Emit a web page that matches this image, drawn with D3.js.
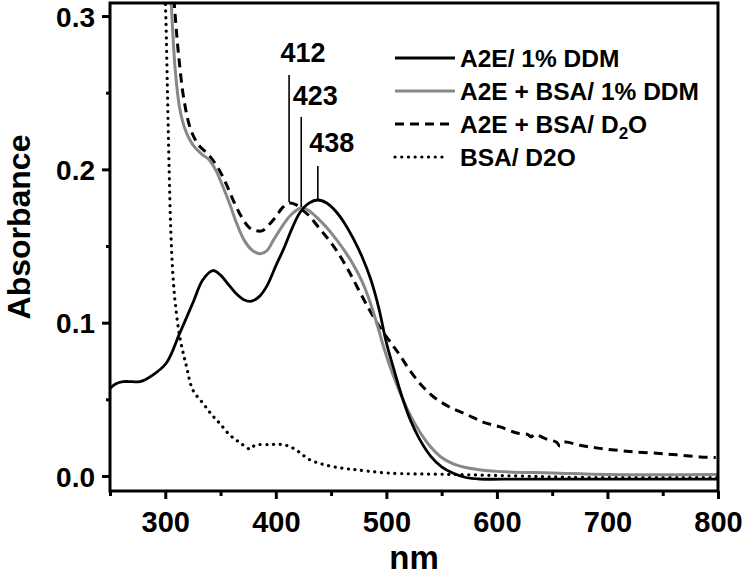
<!DOCTYPE html>
<html><head><meta charset="utf-8">
<script src="https://cdn.jsdelivr.net/npm/d3@7"></script>
<style>
html,body{margin:0;padding:0;background:#fff;}
svg text{font-family:"Liberation Sans",Arial,sans-serif;font-weight:bold;fill:#000;}
</style></head>
<body>
<svg id="chart" width="745" height="579"></svg>
<script>
// ---- data (nm, absorbance) ----
const seriesNames = ["A2E/ 1% DDM", "A2E + BSA/ 1% DDM", "A2E + BSA/ D2O", "BSA/ D2O"];
const a2eDDM = [[250,0.057],[255,0.060],[262,0.0615],[270,0.0615],[277,0.0615],[289,0.066],[301,0.0737],[313,0.093],[325,0.113],[334,0.128],[343,0.134],[350,0.131],[357,0.125],[364,0.119],[371,0.115],[378,0.114],[385,0.117],[392,0.124],[400,0.137],[407,0.148],[415,0.162],[422,0.172],[430,0.178],[438,0.180],[446,0.178],[455,0.172],[462,0.165],[470,0.155],[478,0.143],[486,0.128],[493,0.110],[500,0.087],[507,0.069],[514,0.052],[522,0.036],[530,0.024],[540,0.013],[550,0.006],[560,0.002],[572,-0.001],[585,-0.002],[620,-0.002],[700,-0.002],[800,-0.002]];
const a2eBsaDDM = [[302,0.36],[304,0.33],[306,0.30],[309,0.265],[313,0.24],[318,0.226],[325,0.216],[333,0.210],[340,0.206],[346,0.199],[352,0.189],[358,0.178],[365,0.164],[372,0.153],[379,0.147],[386,0.145],[392,0.147],[398,0.154],[405,0.162],[412,0.169],[418,0.173],[423,0.175],[430,0.173],[438,0.168],[446,0.162],[455,0.154],[463,0.146],[470,0.138],[478,0.127],[485,0.114],[492,0.098],[498,0.083],[505,0.068],[512,0.055],[520,0.042],[530,0.029],[540,0.019],[550,0.012],[560,0.008],[575,0.005],[600,0.003],[650,0.002],[700,0.001],[800,0.001]];
const a2eBsaD2O = [[303,0.36],[306,0.33],[309,0.30],[312,0.275],[317,0.245],[323,0.226],[330,0.216],[337,0.211],[343,0.206],[350,0.198],[356,0.189],[362,0.179],[369,0.169],[376,0.162],[382,0.160],[388,0.160],[394,0.164],[400,0.169],[406,0.175],[412,0.178],[418,0.177],[425,0.173],[431,0.169],[440,0.161],[448,0.154],[455,0.147],[465,0.135],[476,0.120],[485,0.108],[495,0.096],[505,0.086],[512,0.079],[522,0.068],[532,0.059],[542,0.052],[557,0.045],[573,0.040],[588,0.035],[603,0.032],[618,0.028],[628,0.027],[631,0.0255],[634,0.027],[645,0.024],[654,0.022],[657,0.0195],[661,0.022],[675,0.020],[693,0.018],[720,0.016],[754,0.0143],[784,0.0124],[798,0.012]];
const bsaD2O = [[298,0.36],[299,0.33],[300.5,0.30],[302,0.25],[303.5,0.20],[305,0.16],[307,0.13],[309,0.113],[313,0.091],[319,0.072],[325,0.056],[334,0.0475],[342,0.040],[349,0.0345],[358,0.027],[367,0.022],[377,0.0175],[381,0.020],[395,0.0205],[406,0.0205],[416,0.018],[431,0.0105],[446,0.007],[461,0.005],[473,0.004],[500,0.002],[560,0.001],[620,0.000],[680,-0.001],[800,-0.001]];
const xTicks = [300, 400, 500, 600, 700, 800];
const xMinorTicks = [250, 350, 450, 550, 650, 750];
const yTicks = [0.0, 0.1, 0.2, 0.3];
const yMinorTicks = [0.05, 0.15, 0.25];
const peakNm = [412, 423, 438];
const peakLabels = ["412", "423", "438"];
const peakLineBottom = [0.1787, 0.1755, 0.1807];
const peakLineTop = [0.2616, 0.2342, 0.2022];
const peakLabelAt = [0.270, 0.242, 0.211];

// ---- layout ----
const svg = d3.select("#chart");
const L = 110, R = 718, T = 3, B = 491;
const x = d3.scaleLinear().domain([250, 800]).range([L, R]);
const y = d3.scaleLinear().domain([-0.0098, 0.3085]).range([B, T]);

svg.append("defs").append("clipPath").attr("id","clip")
  .append("rect").attr("x",L).attr("y",T).attr("width",R-L).attr("height",B-T);

const line = d3.line().x(d=>x(d[0])).y(d=>y(d[1])).curve(d3.curveCatmullRom.alpha(0.5));
const plot = svg.append("g").attr("clip-path","url(#clip)");

const styles = [
  {stroke:"#000", width:2.8, dash:null, cap:"butt"},
  {stroke:"#888", width:3, dash:null, cap:"butt"},
  {stroke:"#000", width:3, dash:"9,6", cap:"butt"},
  {stroke:"#000", width:3.2, dash:"0.1,6.6", cap:"round"}
];
const allSeries = [a2eDDM, a2eBsaDDM, a2eBsaD2O, bsaD2O];
const drawOrder = [3, 2, 1, 0];
drawOrder.forEach(i=>{
  const s = styles[i];
  plot.append("path").datum(allSeries[i]).attr("d", line)
    .attr("fill","none").attr("stroke",s.stroke).attr("stroke-width",s.width)
    .attr("stroke-dasharray", s.dash).attr("stroke-linecap", s.cap)
    .attr("stroke-linejoin","round");
});

// ---- axes ----
const fmt = d3.format(".1f");
const xAxis = svg.append("g").attr("transform",`translate(0,${B})`)
  .call(d3.axisBottom(x).tickValues(xTicks).tickSize(8).tickPadding(12).tickFormat(d3.format("d")));
const xMinor = svg.append("g").attr("transform",`translate(0,${B})`)
  .call(d3.axisBottom(x).tickValues(xMinorTicks).tickSize(5).tickFormat(""));
const yAxis = svg.append("g").attr("transform",`translate(${L},0)`)
  .call(d3.axisLeft(y).tickValues(yTicks).tickSize(8).tickPadding(7).tickFormat(fmt));
const yMinor = svg.append("g").attr("transform",`translate(${L},0)`)
  .call(d3.axisLeft(y).tickValues(yMinorTicks).tickSize(4).tickFormat(""));
[xAxis,xMinor,yAxis,yMinor].forEach(g=>{
  g.select(".domain").remove();
  g.selectAll(".tick line").attr("stroke","#000").attr("stroke-width",3);
});
xAxis.selectAll(".tick text").attr("font-size",29).attr("font-weight","bold").attr("font-family","Liberation Sans, Arial, sans-serif");
yAxis.selectAll(".tick text").attr("font-size",28).attr("font-weight","bold").attr("font-family","Liberation Sans, Arial, sans-serif").attr("dy","0.36em");

// frame
svg.append("rect").attr("x",L).attr("y",T).attr("width",R-L).attr("height",B-T)
  .attr("fill","none").attr("stroke","#000").attr("stroke-width",3);

// axis titles
svg.append("text").attr("x",(L+R)/2).attr("y",569).attr("text-anchor","middle")
  .attr("font-size",33).text("nm");
svg.append("text").attr("transform",`translate(30,${(T+B)/2 - 20}) rotate(-90)`)
  .attr("text-anchor","middle").attr("font-size",32).text("Absorbance");

// peak annotations
peakNm.forEach((p,i)=>{
  svg.append("line").attr("x1",x(p)).attr("x2",x(p))
    .attr("y1",y(peakLineTop[i])).attr("y2",y(peakLineBottom[i]))
    .attr("stroke","#000").attr("stroke-width",1.6);
  svg.append("text").attr("x",x(p)+14).attr("y",y(peakLabelAt[i]))
    .attr("text-anchor","middle").attr("font-size",27).text(peakLabels[i]);
});

// legend
const legX1 = 395, legX2 = 455, legTextX = 460, legY0 = 58, legDy = 33;
seriesNames.forEach((n,i)=>{
  const yy = legY0 + i*legDy;
  const s = styles[i];
  svg.append("line").attr("x1",legX1).attr("x2", i===3 ? 443 : legX2).attr("y1",yy).attr("y2",yy)
    .attr("stroke",s.stroke).attr("stroke-width",s.width)
    .attr("stroke-dasharray",s.dash).attr("stroke-linecap",s.cap);
  const t = svg.append("text").attr("x",legTextX).attr("y",yy).attr("dy","0.36em").attr("font-size",24.5);
  if (i===2) {
    t.append("tspan").text("A2E + BSA/ D");
    t.append("tspan").attr("font-size",17).attr("dy",6).text("2");
    t.append("tspan").attr("dy",-6).text("O");
  } else {
    t.text(n);
  }
});
</script>
</body></html>
